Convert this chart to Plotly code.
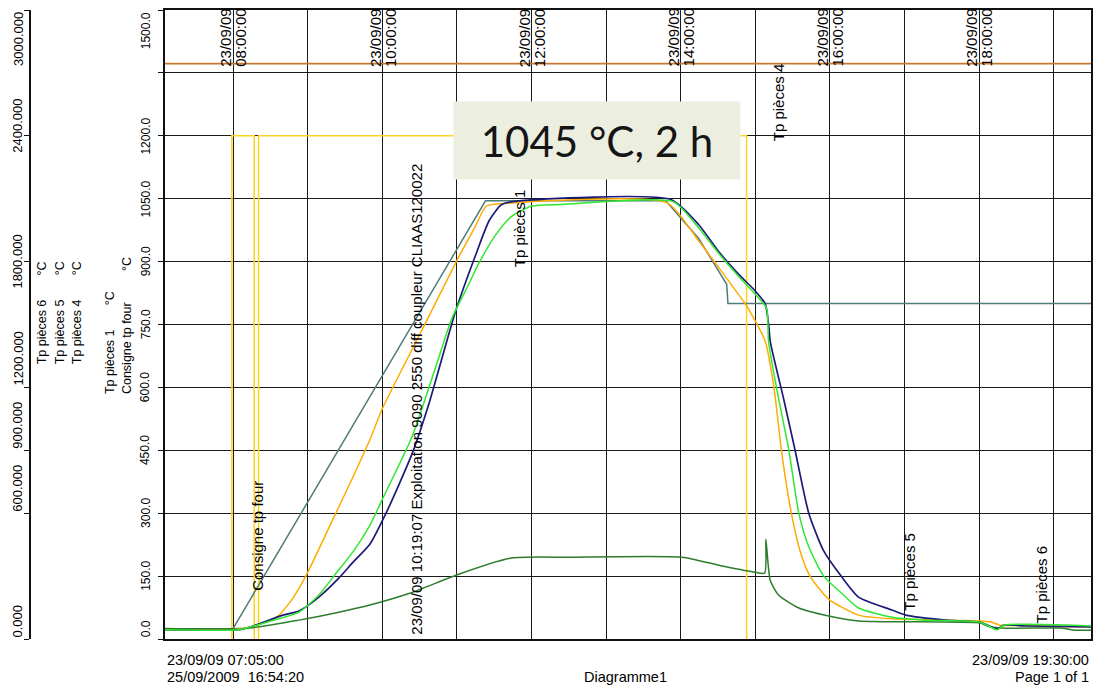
import plotly.graph_objects as go

DAY = "2009-09-23 "

# ---------------- data ----------------
consigne_t = ["07:59", "11:23", "13:48", "14:14:30", "14:37", "14:38", "19:30"]
consigne_v = [20, 1045, 1045, 955, 846, 800, 800]

orange_t = ["07:05", "08:00", "08:13", "08:35", "08:45", "08:53", "09:01", "09:21", "09:37", "09:50",
            "10:00", "10:34", "11:00", "11:15", "11:23:30", "11:40", "13:49", "14:14:30", "14:25", "14:38:30",
            "14:52", "15:00", "15:08", "15:15", "15:21", "15:29", "15:36", "15:44", "15:59", "16:23",
            "16:50", "18:01", "18:09", "18:17", "18:39", "19:17", "19:30"]
orange_v = [22, 22, 28, 52, 85, 121, 165, 290, 390, 475,
            549, 749, 903, 985, 1032, 1039, 1040, 949, 908, 854,
            799, 758, 710, 600, 450, 300, 210, 150, 95, 57,
            48, 43, 41, 33, 32, 29, 29]

navy_t = ["07:05", "08:05", "08:13", "08:40", "08:53", "09:09", "09:25", "09:37", "09:50", "10:03",
          "10:24", "10:38", "10:59", "11:15", "11:26", "11:36", "11:50", "13:52", "14:14:30", "14:30:30",
          "14:46:30", "15:00", "15:08", "15:10:40", "15:12", "15:23", "15:32", "15:43", "15:55", "16:09",
          "16:23", "16:50", "17:01", "17:33:30", "18:01", "18:14:30", "18:20", "18:39", "19:30"]
navy_v = [22, 22, 28, 57, 67, 100, 145, 185, 226, 300,
          442, 566, 782, 915, 998, 1036, 1045, 1048, 988, 924,
          870, 830, 799, 751, 710, 570, 450, 300, 210, 150,
          100, 69, 57, 45, 40, 24, 33, 31, 29]

green_t = ["07:05", "08:05", "08:13", "08:27", "08:53", "09:09", "09:25", "09:37", "09:50", "10:00",
           "10:24", "10:43", "10:56", "11:10", "11:18", "11:31:30", "11:44", "12:00", "12:24:30", "13:54",
           "14:14:30", "14:30:30", "14:46:30", "15:00", "15:09", "15:10:40", "15:17", "15:27", "15:35", "15:43",
           "15:55", "16:11", "16:23", "16:50", "17:17:30", "18:01", "18:14:30", "18:20", "19:15:30", "19:30"]
green_v = [22, 22, 28, 40, 64, 105, 165, 210, 271, 333,
           483, 649, 765, 849, 898, 965, 1008, 1032, 1036, 1043,
           980, 920, 865, 822, 790, 710, 600, 450, 300, 220,
           150, 105, 74, 52, 45, 40, 22, 33, 33, 31]

darkgreen_t = ["07:05", "08:13", "08:53", "09:25", "09:50", "10:22", "11:02", "11:44", "12:30", "14:01",
               "14:30:30", "14:58:40", "15:07:30", "15:08:30", "15:12", "15:18:40", "15:35", "15:59", "16:23", "18:01",
               "18:06:30", "18:17", "19:06", "19:17", "19:30"]
darkgreen_v = [25, 26, 45, 64, 81, 109, 155, 193, 195, 195,
               176, 160, 157, 238, 140, 105, 74, 55, 43, 38,
               31, 26, 26, 21, 21]

# furnace command: 1200 when on, below the visible scale when off
yellow_t = ["07:05", "07:59", "07:59", "08:17", "08:17", "08:20:30", "08:20:30", "14:53", "14:53", "19:30"]
yellow_v = [-15, -15, 1200, 1200, -15, -15, 1200, 1200, -15, -15]

top_t = ["07:05", "19:30"]
top_v = [1372, 1372]

# axis / tick labels
y_ticks = [0, 150, 300, 450, 600, 750, 900, 1050, 1200, 1500]
outer_ticks = [0, 600, 900, 1200, 1800, 2400, 3000]
hour_labels = ["08:00", "10:00", "12:00", "14:00", "16:00", "18:00"]
date_label = "23/09/09"
axis_titles = ["Tp pièces 6", "Tp pièces 5", "Tp pièces 4", "Tp pièces 1", "Consigne tp four"]
series_labels = ["Consigne tp four", "Tp pièces 1", "Tp pièces 4", "Tp pièces 5", "Tp pièces 6",
                 "23/09/09 10:19:07 Exploitation 9090 2550 diff coupleur CLIAAS120022"]
series_label_t = ["08:19:40", "11:50", "15:18:40", "17:04", "18:50", "10:27:20"]
series_label_v = [109, 882, 1181, 64, 33, 5]
box_text = "1045 °C, 2 h"
footer = {"start": "23/09/09 07:05:00", "printed": "25/09/2009  16:54:20",
          "name": "Diagramme1", "end": "23/09/09 19:30:00", "page": "Page 1 of 1"}


def ts(lst):
    return [DAY + (s if s.count(":") == 2 else s + ":00") for s in lst]


# ---------------- figure ----------------
W, H = 1101, 687
L, R, T, B = 10, 8, 8, 48
PW, PH = W - L - R, H - T - B


def fx(px):
    return (px - L) / PW


def fy(py):
    return (H - B - py) / PH


FONT = "Liberation Sans, Arial, sans-serif"
NARROW = "Liberation Sans Narrow, Arial Narrow, Liberation Sans, Arial, sans-serif"

fig = go.Figure()


def add_line(t, v, color, width=1.5, smooth=False):
    line = dict(color=color, width=width)
    if smooth:
        line.update(shape="spline", smoothing=0.6)
    fig.add_trace(go.Scatter(x=ts(t), y=v, mode="lines", line=line,
                             hoverinfo="skip", showlegend=False))


add_line(top_t, top_v, "#c8782a", 1.6)
add_line(yellow_t, yellow_v, "#ffd21f", 1.5)
add_line(consigne_t, consigne_v, "#4f7c79", 1.5)
add_line(darkgreen_t, darkgreen_v, "#2e7d2e", 1.5, smooth=True)
add_line(orange_t, orange_v, "#ffab00", 1.5, smooth=True)
add_line(navy_t, navy_v, "#1c1c78", 1.7, smooth=True)
add_line(green_t, green_v, "#2fe82f", 1.5, smooth=True)
fig.add_trace(go.Scatter(x=ts(["07:05"]), y=[0], yaxis="y2", mode="lines",
                         line=dict(width=0), hoverinfo="skip", showlegend=False))

fig.update_layout(
    width=W, height=H,
    margin=dict(l=L, r=R, t=T, b=B),
    paper_bgcolor="white", plot_bgcolor="white",
    font=dict(family=FONT, color="black"),
    showlegend=False,
    xaxis=dict(domain=[fx(165), 1], type="date",
               range=[DAY + "07:05:00", DAY + "19:30:00"],
               tick0=DAY + "08:00:00", dtick=3600000,
               showgrid=True, gridcolor="#1a1a1a", gridwidth=1,
               showticklabels=False, ticks="", zeroline=False,
               showline=True, mirror=True, linecolor="#111", linewidth=1.5),
    yaxis=dict(range=[0, 1500], tick0=0, dtick=150,
               showgrid=True, gridcolor="#1a1a1a", gridwidth=1,
               showticklabels=False, ticks="outside", ticklen=5, tickcolor="#111",
               zeroline=False, showline=True, mirror=True, linecolor="#111", linewidth=1.5),
    yaxis2=dict(range=[0, 3000], overlaying="y", anchor="free", position=fx(30), side="left",
                showgrid=False, zeroline=False, showticklabels=False,
                tickmode="array", tickvals=outer_ticks, ticks="outside", ticklen=5, tickcolor="#111",
                showline=True, linecolor="#111", linewidth=1.5),
)

# top time labels inside the plot
for h in hour_labels:
    x = ts([h])[0]
    fig.add_annotation(x=x, y=1360, xref="x", yref="y", text=date_label, textangle=-90,
                       showarrow=False, xanchor="center", yanchor="bottom", xshift=-7,
                       font=dict(size=15, family=FONT))
    fig.add_annotation(x=x, y=1360, xref="x", yref="y", text=h + ":00", textangle=-90,
                       showarrow=False, xanchor="center", yanchor="bottom", xshift=8,
                       font=dict(size=15, family=FONT))

# left main tick labels
for v in y_ticks:
    anchor = "bottom" if v == 0 else ("top" if v == 1500 else "middle")
    fig.add_annotation(x=fx(146), y=v, xref="paper", yref="y", text=f"{v:.1f}", textangle=-90,
                       showarrow=False, xanchor="center", yanchor=anchor,
                       font=dict(size=12, family=NARROW))

# outer axis tick labels
outer_anchor = ["bottom", "bottom", "bottom", "bottom", "middle", "middle", "top"]
outer_shift = [0, 0, 0, 0, 0, 10, 0]
for v, a, s in zip(outer_ticks, outer_anchor, outer_shift):
    fig.add_annotation(x=fx(18), y=v, xref="paper", yref="y2", text=f"{v:.3f}", textangle=-90,
                       showarrow=False, xanchor="center", yanchor=a, yshift=s,
                       font=dict(size=13, family=NARROW))

# axis titles
title_x = [42, 60, 77, 110, 127]
title_bottom = [365, 365, 365, 395, 395]
title_gap = [7, 7, 7, 7, 9]
for name, x, yb, g in zip(axis_titles, title_x, title_bottom, title_gap):
    fig.add_annotation(x=fx(x), y=fy(yb), xref="paper", yref="paper",
                       text=name + "\u00a0" * g + "°C", textangle=-90,
                       showarrow=False, xanchor="center", yanchor="bottom",
                       font=dict(size=12.5, family=FONT))

# labels in the plot
for txt, t, v in zip(series_labels, series_label_t, series_label_v):
    fig.add_annotation(x=ts([t])[0], y=v, xref="x", yref="y", text=txt, textangle=-90,
                       showarrow=False, xanchor="center", yanchor="bottom",
                       font=dict(size=15, family=FONT))

# big callout box
fig.add_annotation(x=fx(598), y=fy(138.5), xref="paper", yref="paper", text=box_text,
                   showarrow=False, xanchor="center", yanchor="middle",
                   width=282, height=73, bgcolor="#ecefe0", borderpad=2,
                   font=dict(size=42, family="Lato, Open Sans, sans-serif", color="#151515"))

# footer texts
fsz = 14.5
fig.add_annotation(x=fx(165), y=fy(660), xref="paper", yref="paper", text=footer["start"],
                   showarrow=False, xanchor="left", yanchor="middle", font=dict(size=fsz, family=NARROW))
fig.add_annotation(x=fx(165), y=fy(677), xref="paper", yref="paper", text=footer["printed"],
                   showarrow=False, xanchor="left", yanchor="middle", font=dict(size=fsz, family=NARROW))
fig.add_annotation(x=fx(627), y=fy(677), xref="paper", yref="paper", text=footer["name"],
                   showarrow=False, xanchor="center", yanchor="middle", font=dict(size=fsz, family=NARROW))
fig.add_annotation(x=1, y=fy(660), xref="paper", yref="paper", text=footer["end"],
                   showarrow=False, xanchor="right", yanchor="middle", font=dict(size=fsz, family=NARROW))
fig.add_annotation(x=1, y=fy(677), xref="paper", yref="paper", text=footer["page"],
                   showarrow=False, xanchor="right", yanchor="middle", font=dict(size=fsz, family=NARROW))

fig.write_html("out.html", config={"displayModeBar": False},
               post_script="document.body.style.margin='0px';")
